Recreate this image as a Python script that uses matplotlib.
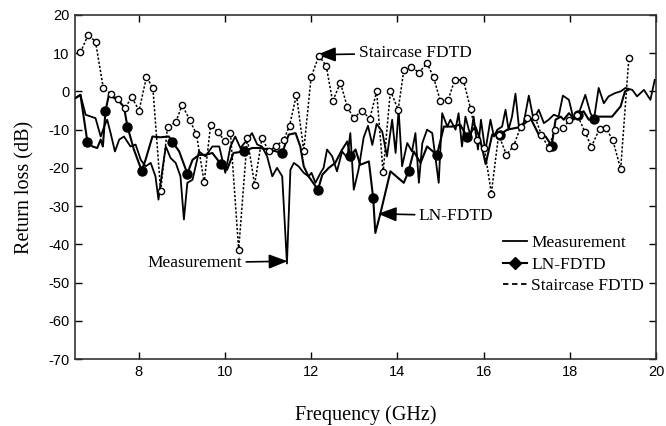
import numpy as np
import matplotlib
matplotlib.use("Agg")
import matplotlib.pyplot as plt
from matplotlib.lines import Line2D

# Measured return loss (solid line)
meas_freq = [6.54, 6.65, 6.77, 7.00, 7.12, 7.20, 7.27, 7.35, 7.45, 7.55, 7.66, 7.81, 7.93,
             8.05, 8.16, 8.28, 8.39, 8.46, 8.55, 8.63, 8.74, 8.86, 8.97, 9.05, 9.13, 9.25,
             9.40, 9.55, 9.71, 9.87, 10.01, 10.13, 10.24, 10.36, 10.52, 10.63, 10.75, 10.86,
             10.98, 11.10, 11.21, 11.33, 11.44, 11.52, 11.60, 11.71, 11.83, 11.94, 12.01,
             12.10, 12.22, 12.29, 12.37, 12.49, 12.60, 12.72, 12.84, 12.91, 12.99, 13.10,
             13.22, 13.32, 13.42, 13.52, 13.65, 13.76, 13.88, 13.96, 14.03, 14.11, 14.23,
             14.34, 14.42, 14.50, 14.58, 14.69, 14.81, 14.96, 15.04, 15.16, 15.23, 15.35,
             15.42, 15.50, 15.58, 15.70, 15.77, 15.87, 15.94, 16.04, 16.16, 16.24, 16.32,
             16.43, 16.51, 16.58, 16.66, 16.74, 16.82, 16.93, 17.05, 17.16, 17.28, 17.40,
             17.51, 17.63, 17.74, 17.84, 17.98, 18.09, 18.21, 18.36, 18.48, 18.56, 18.67,
             18.79, 18.90, 19.06, 19.18, 19.29, 19.45, 19.56, 19.72, 19.87, 19.97]
meas_loss = [-1.7, -0.9, -6.1, -7.0, -11.8, -9.2, -7.4, -10.9, -15.7, -12.6, -11.8, -14.4, -13.9,
             -17.9, -19.6, -18.7, -22.2, -28.3, -20.5, -14.4, -17.4, -18.7, -22.2, -33.5, -23.9, -23.1,
             -15.7, -17.0, -14.4, -14.4, -21.3, -14.4, -11.8, -14.8, -12.6, -10.9, -13.9, -14.4,
             -17.0, -22.2, -20.0, -22.2, -45.0, -20.5, -18.7, -19.6, -21.3, -22.2, -21.3,
             -23.9, -21.3, -20.0, -15.2, -17.0, -20.9, -15.7, -17.4, -10.9, -25.7, -20.5,
             -12.0, -9.0, -14.0, -8.5, -10.5, -17.0, -7.4, -16.1, -4.8, -19.6, -13.5,
             -15.7, -10.9, -23.9, -13.5, -10.0, -10.9, -23.9, -5.7, -9.2, -7.4, -10.0,
             -5.7, -14.4, -6.6, -11.8, -6.6, -15.2, -7.4, -15.7, -7.4, -11.8, -10.0,
             -9.2, -4.8, -10.0, -6.6, -0.6, -9.2, -8.3, -1.1, -7.4, -4.8, -8.3,
             -7.4, -6.1, -6.6, -1.1, -2.2, -7.4, -5.7, -0.9, -5.7, -7.4, 0.9,
             -3.1, -1.3, -0.4, 0.0, 0.9, 0.4, -1.3, 0.4, -2.2, 3.0]

# LN-FDTD (solid line, filled markers at some samples)
ln_freq = [6.54, 6.65, 6.81, 6.93, 7.04, 7.12, 7.17, 7.23, 7.31, 7.43, 7.55, 7.66, 7.74, 7.89,
           8.07, 8.16, 8.32, 8.50, 8.70, 8.78, 8.94, 9.13, 9.25, 9.40, 9.55, 9.71, 9.90, 10.05,
           10.20, 10.44, 10.63, 10.82, 11.02, 11.33, 11.48, 11.64, 11.75, 11.83, 11.94, 12.16,
           12.26, 12.41, 12.56, 12.72, 12.84, 12.91, 13.03, 13.14, 13.34, 13.44, 13.49, 13.61,
           13.84, 14.15, 14.26, 14.38, 14.54, 14.69, 14.92, 15.08, 15.27, 15.46, 15.62, 15.81,
           15.92, 16.05, 16.20, 16.38, 16.55, 16.86, 17.09, 17.28, 17.44, 17.58, 17.67, 17.79,
           17.86, 17.98, 18.09, 18.19, 18.32, 18.44, 18.56, 18.67, 18.83, 18.98, 19.18, 19.28,
           19.36]
ln_loss = [-1.7, -0.9, -13.1, -14.4, -14.8, -12.6, -14.4, -5.2, -0.9, -1.7, -2.6, -4.1, -9.2, -15.2,
           -20.7, -17.9, -11.8, -12.0, -11.8, -13.1, -15.7, -21.5, -17.9, -16.6, -16.6, -16.1, -18.9, -20.5,
           -16.1, -15.7, -14.8, -14.8, -15.2, -16.1, -11.3, -10.9, -14.4, -19.6, -22.2, -25.7,
           -21.8, -20.0, -18.7, -15.2, -13.1, -17.0, -15.2, -19.2, -18.3, -27.9, -37.0, -31.8,
           -20.9, -23.9, -20.9, -15.7, -18.7, -14.4, -16.6, -9.2, -9.2, -8.7, -11.9, -9.2,
           -12.5, -19.0, -11.3, -11.3, -10.0, -9.3, -7.0, -11.3, -11.8, -14.2, -7.4, -6.6,
           -7.4, -5.7, -7.0, -6.1, -5.2, -7.4, -7.2, -6.6, -6.6, -6.6, -3.9, 0.0,
           0.4]
ln_marker_freq = [6.81, 7.23, 7.74, 8.07, 8.78, 9.13, 9.90, 10.44, 11.33, 12.16, 12.91,
                  13.44, 14.26, 14.92, 15.62, 16.38, 17.58, 18.19, 18.56]

# Staircase FDTD (dotted line, open circles)
st_freq = [6.65, 6.83, 7.00, 7.18, 7.35, 7.51, 7.68, 7.84, 8.01, 8.18, 8.33, 8.51, 8.67, 8.86,
           9.01, 9.18, 9.34, 9.52, 9.67, 9.85, 10.00, 10.13, 10.32, 10.52, 10.69, 10.86, 11.02,
           11.19, 11.36, 11.50, 11.66, 11.83, 12.00, 12.18, 12.35, 12.50, 12.68, 12.84, 12.99,
           13.18, 13.36, 13.52, 13.67, 13.84, 14.02, 14.15, 14.32, 14.50, 14.69, 14.84, 15.00,
           15.18, 15.33, 15.53, 15.70, 15.85, 16.02, 16.18, 16.35, 16.53, 16.70, 16.86, 17.01,
           17.19, 17.34, 17.51, 17.65, 17.84, 17.99, 18.17, 18.35, 18.50, 18.69, 18.84, 19.00,
           19.18, 19.37]
st_loss = [10.2, 14.8, 13.0, 0.9, -0.6, -2.0, -4.4, -1.5, -5.0, 3.7, 1.0, -26.1, -9.3, -8.1,
           -3.5, -7.4, -11.1, -23.8, -8.7, -10.7, -13.0, -10.9, -41.4, -12.2, -24.4, -12.2, -15.7,
           -14.2, -12.8, -9.0, -0.9, -15.5, 3.7, 9.3, 6.7, -2.6, 2.3, -4.1, -7.0,
           -5.0, -7.2, 0.0, -21.2, 0.2, -4.8, 5.5, 6.5, 4.9, 7.4, 3.7, -2.6,
           -2.2, 3.0, 3.0, -4.6, -12.8, -14.8, -26.7, -11.3, -16.6, -14.2, -9.3, -7.0,
           -6.6, -11.3, -14.8, -10.0, -9.6, -7.6, -6.1, -10.5, -14.5, -9.8, -9.6, -12.8,
           -20.3, 8.7]

x_ticks = [8, 10, 12, 14, 16, 18, 20]
y_ticks = list(range(-70, 21, 10))

plt.rcParams['font.family'] = ['Liberation Serif', 'DejaVu Serif']
plt.rcParams['axes.unicode_minus'] = False

fig = plt.figure(figsize=(6.66, 4.26), dpi=100)
ax = fig.add_axes([0.113, 0.157, 0.872, 0.808])

ax.plot(meas_freq, meas_loss, color='black', lw=1.3, zorder=3)

ln_idx = [i for i, f in enumerate(ln_freq) if f in ln_marker_freq]
ax.plot(ln_freq, ln_loss, color='black', lw=1.5, marker='o', markersize=6.5,
        markevery=ln_idx, zorder=4)

ax.plot(st_freq, st_loss, color='black', lw=1.1, ls=(0, (1.5, 1.2)), marker='o',
        markersize=4.5, markerfacecolor='white', markeredgecolor='black',
        markeredgewidth=1.0, zorder=5)

ax.set_xlim(6.53, 20)
ax.set_ylim(-70, 20)
ax.set_xticks(x_ticks)
ax.set_yticks(y_ticks)
ax.tick_params(direction='in', length=5, width=1, top=True, right=True,
               labelsize=10.5, pad=4, labelfontfamily='Liberation Sans')
for s in ax.spines.values():
    s.set_linewidth(1.2)
    s.set_color('#333333')

ax.set_xlabel('Frequency (GHz)', fontsize=14.5, labelpad=19)
ax.set_ylabel('Return loss (dB)', fontsize=14.5, labelpad=10)

arrow = dict(arrowstyle='-|>,head_length=0.9,head_width=0.35', color='black', lw=1.2,
             shrinkA=1, shrinkB=0)
ax.annotate('Staircase FDTD', xy=(12.14, 9.6), xytext=(13.1, 10.0), ha='left', va='center',
            fontsize=12.5, arrowprops=arrow)
ax.annotate('LN-FDTD', xy=(13.55, -32.0), xytext=(14.5, -32.5), ha='left', va='center',
            fontsize=12.5, arrowprops=arrow)
ax.annotate('Measurement', xy=(11.45, -44.4), xytext=(10.4, -44.8), ha='right', va='center',
            fontsize=12.5, arrowprops=arrow)

handles = [Line2D([], [], color='black', lw=1.3),
           Line2D([], [], color='black', lw=1.5, marker='D', markersize=6),
           Line2D([], [], color='black', lw=1.3, ls=(0, (3, 2)))]
ax.legend(handles, ['Measurement', 'LN-FDTD', 'Staircase FDTD'], loc='upper left',
          bbox_to_anchor=(0.722, 0.385), frameon=False, fontsize=12.5, handlelength=1.35,
          handletextpad=0.25, labelspacing=0.3, borderpad=0)

fig.savefig('out.png', dpi=100)
